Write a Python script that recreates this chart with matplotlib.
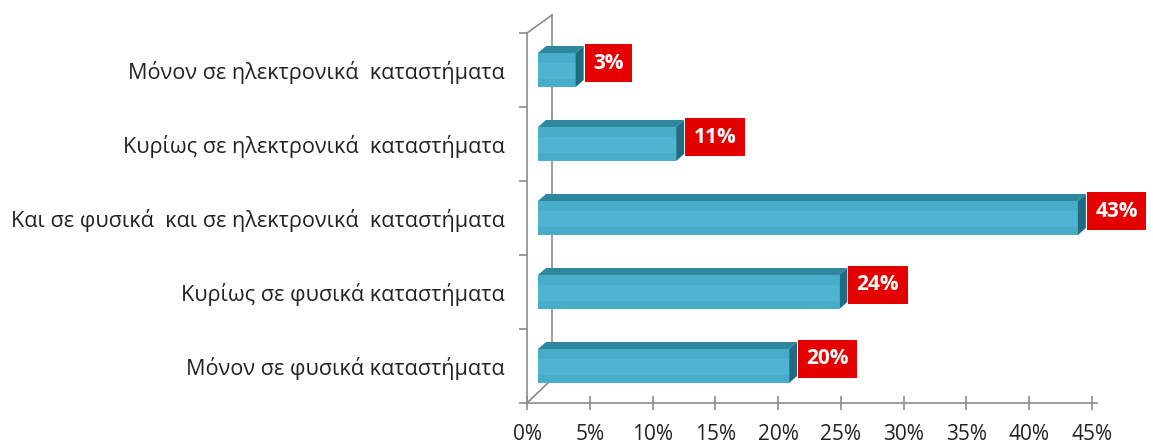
import matplotlib
matplotlib.use('Agg')
import matplotlib.pyplot as plt
from matplotlib.patches import Rectangle, Polygon
from matplotlib.transforms import offset_copy

plt.rcParams['font.family'] = ['Open Sans', 'DejaVu Sans']

''' data '''
categories = ['Μόνον σε φυσικά καταστήματα',
              'Κυρίως σε φυσικά καταστήματα',
              'Και σε φυσικά  και σε ηλεκτρονικά  καταστήματα',
              'Κυρίως σε ηλεκτρονικά  καταστήματα',
              'Μόνον σε ηλεκτρονικά  καταστήματα']
values = [20, 24, 43, 11, 3]   # [%]
xticks = [0, 5, 10, 15, 20, 25, 30, 35, 40, 45]

''' style '''
c_front = '#48ADC9'
c_top = '#2C879F'
c_side = '#1F6C82'
c_label = '#E50000'
c_axis = '#8C8C8C'

W, H = 1153, 446
fig = plt.figure(figsize=(W/100, H/100), dpi=100)
fig.patch.set_facecolor('white')

# axes placed in pixels
x0, x1 = 527, 1092
y_bot, y_top = 403, 33
ax = fig.add_axes([x0/W, (H-y_bot)/H, (x1-x0)/W, (y_bot-y_top)/H])
ax.set_xlim(0, 45)
ax.set_ylim(0, 5)
ax.patch.set_alpha(0)

px_x = (x1-x0)/45   # pixels per %
px_y = (y_bot-y_top)/5   # pixels per category

# 3D depth (pixels)
wall_dx, wall_dy_top, wall_dy_bot = 25, 18, 24
bar_shift = 11
bar_dx, bar_dy = 8, 7
h = 0.46

lbl_fs = 15
lbl_pad = 0.4
lbl_off = bar_shift + bar_dx + lbl_pad*lbl_fs*100/72 + 1

for i, v in enumerate(values):
    xs = bar_shift/px_x
    ddx = bar_dx/px_x
    ddy = bar_dy/px_y
    yb = i + 0.5 - h/2
    yt = i + 0.5 + h/2
    # front face
    ax.add_patch(Rectangle((xs, yb), v, h, facecolor=c_front,
                           edgecolor='none', zorder=3))
    # light strip on the front face
    ax.add_patch(Rectangle((xs, yb + h*0.25), v, h*0.45, facecolor='#55BAD4',
                           edgecolor='none', alpha=0.6, zorder=3))
    # top face
    ax.add_patch(Polygon([(xs, yt), (xs+v, yt), (xs+v+ddx, yt+ddy), (xs+ddx, yt+ddy)],
                         closed=True, facecolor=c_top, edgecolor='none', zorder=3))
    # side face
    ax.add_patch(Polygon([(xs+v, yb), (xs+v+ddx, yb+ddy), (xs+v+ddx, yt+ddy), (xs+v, yt)],
                         closed=True, facecolor=c_side, edgecolor='none', zorder=3))
    # value label
    tr = offset_copy(ax.transData, fig=fig, x=lbl_off, y=7, units='dots')
    ax.text(v, i + 0.5, f'{v}%', transform=tr, ha='left', va='center',
            color='white', fontsize=lbl_fs, fontweight='bold', zorder=5,
            bbox=dict(boxstyle=f'square,pad={lbl_pad}', facecolor=c_label, edgecolor='none'))

# back wall lines
back_top = offset_copy(ax.transData, fig=fig, x=wall_dx, y=wall_dy_top, units='dots')
back_bot = offset_copy(ax.transData, fig=fig, x=wall_dx, y=wall_dy_bot, units='dots')
pt_bt = back_bot.transform((0, 0))
pt_tt = back_top.transform((0, 5))
pt_bf = ax.transData.transform((0, 0))
pt_tf = ax.transData.transform((0, 5))
for a, b in [(pt_bt, pt_tt), (pt_bf, pt_bt), (pt_tf, pt_tt)]:
    ax.plot([a[0], b[0]], [a[1], b[1]], color=c_axis, lw=1.2,
            transform=None, zorder=1, clip_on=False)

# axes lines and ticks
for s in ['top', 'right']:
    ax.spines[s].set_visible(False)
for s in ['left', 'bottom']:
    ax.spines[s].set_color(c_axis)
    ax.spines[s].set_linewidth(1.2)
ax.spines['bottom'].set_bounds(0, 45.4)

ax.set_xticks(xticks)
ax.set_xticklabels([f'{t}%' for t in xticks], fontsize=15, color='#222222')
ax.tick_params(axis='x', direction='inout', length=10, width=1.2,
               color=c_axis, pad=10)

ax.set_yticks(range(6))
ax.set_yticklabels([])
ax.tick_params(axis='y', direction='out', length=6, width=1.2, color=c_axis)
ax.set_yticks([i + 0.5 for i in range(len(categories))], minor=True)
ax.set_yticklabels(categories, minor=True, fontsize=15.6, color='#222222')
ax.tick_params(axis='y', which='minor', length=0, pad=16)

fig.savefig('out.png', dpi=100)
